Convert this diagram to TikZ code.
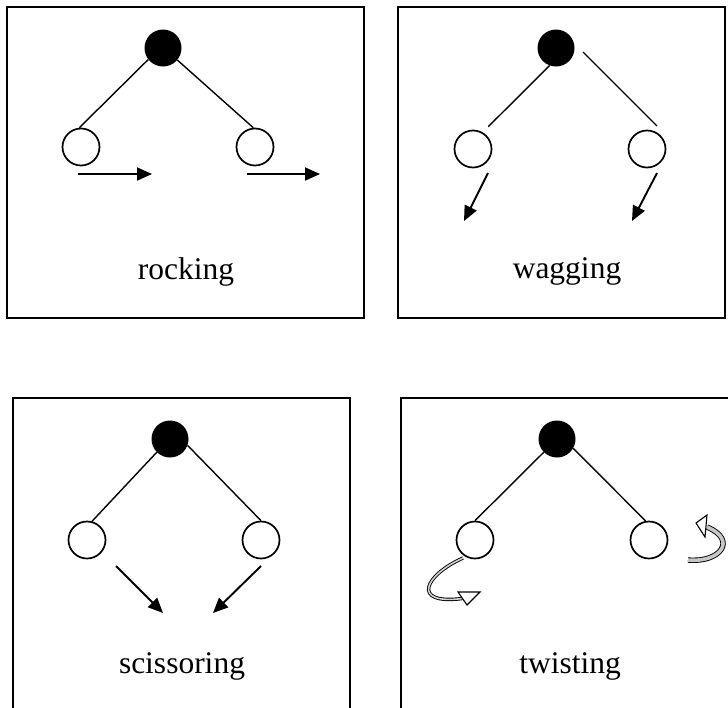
\documentclass[tikz,border=0pt]{standalone}
\usepackage{fontspec}
\setmainfont{Liberation Serif}
\usetikzlibrary{arrows.meta}
\begin{document}
\begin{tikzpicture}[x=1pt,y=-1pt,
  panel/.style={line width=2pt},
  heavy/.style={circle,fill=black,minimum size=37pt,inner sep=0pt},
  light/.style={circle,draw,line width=1.7pt,minimum size=37pt,inner sep=0pt},
  bond/.style={line width=1.4pt},
  move/.style={line width=1.9pt,-{Triangle[length=15pt,width=13pt]}},
  ribbonA/.style={line width=0.9pt,double=gray!35,double distance=1.6pt},
  ribbonB/.style={line width=0.9pt,double=gray!45,double distance=3.6pt},
  headtri/.style={line width=1.1pt,fill=white,line join=miter},
  label/.style={font=\fontsize{31.5}{38}\selectfont,anchor=base,inner sep=0pt}]
\useasboundingbox (0,0) rectangle (728,707);
\fill[white] (0,0) rectangle (728,707);
% ---------- panel boxes ----------
\draw[panel] (7,7) rectangle (364,318);
\draw[panel] (398,7) rectangle (725,318);
\draw[panel] (13,712) -- (13,398) -- (350,398) -- (350,712);
\draw[panel] (401,712) -- (401,398) -- (732,398);
% ---------- rocking ----------
\node[heavy] (rf) at (163,48) {};
\node[light] (rl) at (81,147) {};
\node[light] (rr) at (255,147) {};
\draw[bond] (rf.218) -- (rl.95);
\draw[bond] (rf.-40) -- (rr.95);
\coordinate (ra1) at (78,174); \coordinate (rb1) at (152,174);
\coordinate (ra2) at (247,174); \coordinate (rb2) at (320,174);
\draw[move] (ra1) -- (rb1);
\draw[move] (ra2) -- (rb2);
\node[label] (rt) at (186,279) {rocking};
% ---------- wagging ----------
\node[heavy] (wf) at (556,48) {};
\node[light] (wl) at (473,149) {};
\node[light] (wr) at (647,149) {};
\draw[bond,shorten >=8pt] (wf.250) -- (wl.60);
\coordinate (ws) at (583,52); \coordinate (we) at (657,126);
\draw[bond] (ws) -- (we);
\coordinate (wa1) at (488,173); \coordinate (wb1) at (464,221);
\coordinate (wa2) at (657,173); \coordinate (wb2) at (632,221);
\draw[move] (wa1) -- (wb1);
\draw[move] (wa2) -- (wb2);
\node[label] (wt) at (567,278) {wagging};
% ---------- scissoring ----------
\node[heavy] (sf) at (170,439) {};
\node[light] (sl) at (87,540) {};
\node[light] (sr) at (261,540) {};
\draw[bond] (sf.225) -- (sl.75);
\draw[bond] (sf.-20) -- (sr.north);
\coordinate (sa1) at (116,566); \coordinate (sb1) at (163,613);
\coordinate (sa2) at (261,566); \coordinate (sb2) at (213,613);
\draw[move] (sa1) -- (sb1);
\draw[move] (sa2) -- (sb2);
\node[label] (st) at (182,673) {scissoring};
% ---------- twisting ----------
\node[heavy] (tf) at (557,439) {};
\node[light] (tl) at (475,540) {};
\node[light] (tr) at (649,540) {};
\draw[bond] (tf.225) -- (tl.north);
\draw[bond] (tf.-30) -- (tr.100);
% left twist ribbon
\coordinate (tlA) at (463,558);
\coordinate (tlB) at (462.5,598.5);
\draw[ribbonA] (tlA) .. controls (425,575) and (410,605) .. (tlB);
\draw[headtri] (458,592) -- (480,592) -- (467,605) -- cycle;
% right twist ribbon
\coordinate (trA) at (688,560);
\coordinate (trB) at (707,527);
\draw[ribbonB] (trA) .. controls (720,563) and (738,540) .. (trB);
\draw[headtri] (696,523) -- (707,515) -- (705,537) -- cycle;
\node[label] (tt) at (570,673) {twisting};
\end{tikzpicture}
\end{document}
